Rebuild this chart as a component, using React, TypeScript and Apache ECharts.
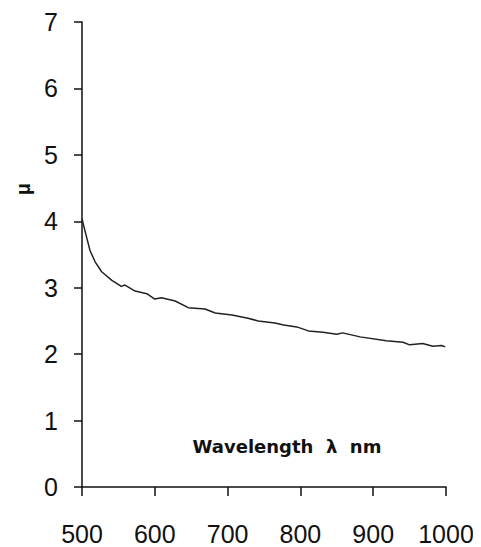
import React, { useEffect, useRef } from "react";
import * as echarts from "echarts";

const wavelengths = [500, 504, 511, 518, 527, 541, 554, 559, 573, 589, 600, 609, 628, 646, 669, 683, 706, 728, 742, 765, 777, 795, 811, 831, 850, 858, 882, 918, 941, 950, 968, 982, 994, 999];
const muValues = [4.04, 3.86, 3.56, 3.39, 3.24, 3.11, 3.02, 3.04, 2.95, 2.91, 2.83, 2.85, 2.8, 2.7, 2.68, 2.62, 2.59, 2.54, 2.5, 2.47, 2.44, 2.41, 2.35, 2.33, 2.3, 2.32, 2.26, 2.2, 2.18, 2.14, 2.16, 2.12, 2.13, 2.11];
const xTitle = "Wavelength  λ  nm";
const yTitle = "μ";

export default function App() {
  const ref = useRef<HTMLDivElement>(null);
  useEffect(() => {
    if (!ref.current) return;
    const chart = echarts.init(ref.current, undefined, { renderer: "svg" });
    const data = wavelengths.map((w, i) => [w, muValues[i]]);
    chart.setOption({
      animation: false,
      backgroundColor: "#fff",
      grid: { left: 74, top: 14, right: 35, bottom: 60, containLabel: false, outerBoundsMode: "none" },
      xAxis: {
        type: "value",
        min: 500,
        max: 1000,
        interval: 100,
        axisLine: { show: true, lineStyle: { color: "#111", width: 1.5 } },
        axisTick: { show: true, inside: false, length: 9, lineStyle: { color: "#111", width: 1.5 } },
        axisLabel: { margin: 34, fontSize: 25, color: "#111", fontFamily: "Liberation Sans", formatter: (v: number) => String(v) },
        splitLine: { show: false },
      },
      yAxis: {
        type: "value",
        min: 0,
        max: 7,
        interval: 1,
        axisLine: { show: true, lineStyle: { color: "#111", width: 1.5 } },
        axisTick: { show: true, inside: false, length: 8, lineStyle: { color: "#111", width: 1.5 } },
        axisLabel: { margin: 24, fontSize: 25, color: "#111", fontFamily: "Liberation Sans" },
        splitLine: { show: false },
      },
      graphic: [
        {
          type: "text",
          x: 279,
          y: 438,
          style: {
            text: xTitle,
            font: "bold 18px 'DejaVu Sans'",
            fill: "#111",
            textAlign: "center",
            textVerticalAlign: "middle",
          },
        },
        {
          type: "text",
          x: 15,
          y: 181,
          rotation: Math.PI / 2,
          style: {
            text: yTitle,
            font: "bold 20px 'Liberation Sans'",
            fill: "#111",
            textAlign: "center",
            textVerticalAlign: "middle",
          },
        },
      ],
      series: [
        {
          type: "line",
          data,
          showSymbol: false,
          smooth: false,
          lineStyle: { color: "#222", width: 1.5 },
        },
      ],
    });
    return () => chart.dispose();
  }, []);
  return <div ref={ref} style={{ width: 473, height: 539 }} />;
}
